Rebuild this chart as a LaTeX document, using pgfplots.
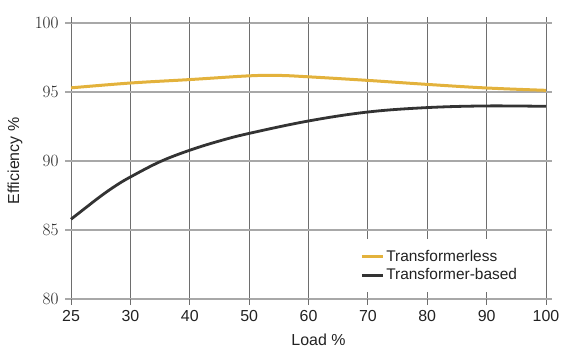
\documentclass[border=0pt]{standalone}
\usepackage{pgfplots}
\pgfplotsset{compat=1.18}
\usepackage{fontspec}
\setmainfont{Liberation Sans}
\definecolor{gold}{HTML}{E3B23C}
\definecolor{dark}{HTML}{333333}
\definecolor{hgrid}{HTML}{A8A8A8}
\definecolor{vgrid}{HTML}{6E6E6E}
\definecolor{txt}{HTML}{222222}
\begin{document}
\begin{tikzpicture}[x=1bp,y=1bp]
\begin{axis}[
  scale only axis,
  width=475bp, height=276bp,
  xmin=0, xmax=8, ymin=80, ymax=100,
  xtick={0,1,2,3,4,5,6,7,8},
  xticklabels={25,30,40,50,60,70,80,90,100},
  ytick={80,85,90,95,100},
  axis line style={draw=none},
  tick align=outside,
  major tick length=6bp,
  x tick style={draw=vgrid, line width=0.9bp},
  y tick style={draw=hgrid, line width=1.4bp},
  xmajorgrids, ymajorgrids,
  x grid style={draw=vgrid, line width=0.9bp},
  y grid style={draw=hgrid, line width=1.4bp},
  ticklabel style={font=\fontsize{16}{19}\selectfont, text=txt},
  xticklabel style={yshift=-2bp},
  yticklabel style={xshift=-3bp},
  xlabel={Load \%},
  ylabel={Efficiency \%},
  xlabel style={font=\fontsize{16}{19}\selectfont, text=txt, at={(rel axis cs:0.521,0)}, anchor=center, yshift=-41bp},
  ylabel style={font=\fontsize{16}{19}\selectfont, text=txt, at={(rel axis cs:0,0.5)}, anchor=center, yshift=56bp},
  legend style={at={(rel axis cs:0.596,0.1207)}, anchor=west, draw=none, fill=white,
    font=\fontsize{15.5}{18}\selectfont, text=txt, inner xsep=6bp, inner ysep=9bp,
    row sep=2bp, legend cell align=left},
  legend image code/.code={\draw[#1, line width=3bp] (0bp,0bp) -- (21bp,0bp);},
  clip=false,
]
\addplot[gold, line width=3bp, smooth, tension=0.6] coordinates {
(0,95.3) (1,95.65) (2,95.9) (3,96.17) (3.5,96.2) (4,96.1) (5,95.84) (6,95.55) (7,95.29) (8,95.12)};
\addlegendentry{Transformerless}
\addplot[dark, line width=2.8bp, smooth, tension=0.6] coordinates {
(0,85.78) (0.25,86.62) (0.5,87.45) (0.75,88.2) (1,88.84) (1.5,89.95) (2,90.78) (2.5,91.45) (3,92.0) (4,92.9) (5,93.55) (6,93.87) (7,93.99) (8,93.96)};
\addlegendentry{Transformer-based}
\coordinate (bl) at (rel axis cs:-0.1495,-0.1884);
\coordinate (tr) at (rel axis cs:1.0737,1.0833);
\end{axis}
\useasboundingbox (bl) rectangle (tr);
\end{tikzpicture}
\end{document}
